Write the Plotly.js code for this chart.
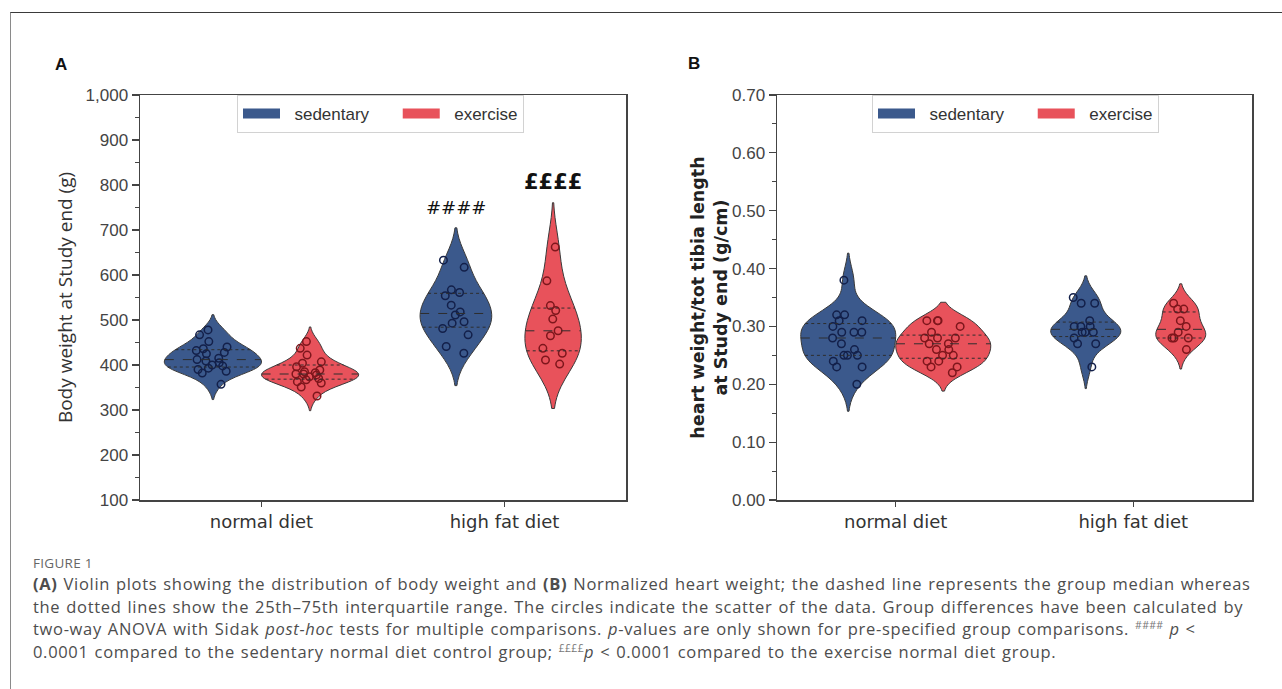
<!DOCTYPE html>
<html><head><meta charset="utf-8">
<script src="https://cdn.plot.ly/plotly-3.0.1.min.js"></script>
<style>
html,body{margin:0;padding:0;background:#fff;}
body{width:1282px;height:689px;overflow:hidden;position:relative;}
#frame{position:absolute;left:10px;top:12px;width:1400px;height:800px;border-top:1.5px solid #3a3a3a;border-left:1px solid #8a8a8a;}
#plot{position:absolute;left:0;top:0;width:1282px;height:689px;}
#figlabel{position:absolute;left:33px;top:554px;font-family:"Open Sans",sans-serif;font-size:13.5px;color:#666;white-space:nowrap;letter-spacing:0.3px;}
#caption{position:absolute;left:33px;top:573px;font-family:"Open Sans",sans-serif;font-size:16.5px;line-height:22.7px;letter-spacing:0.68px;word-spacing:1px;color:#4d4d4d;white-space:nowrap;}
#caption sup{font-size:10.5px;vertical-align:6px;line-height:0;color:#777;letter-spacing:0.3px;}
</style></head><body>
<div id="frame"></div>
<div id="plot"></div>
<div id="figlabel">FIGURE 1</div>
<div id="caption"><b>(A)</b> Violin plots showing the distribution of body weight and <b>(B)</b> Normalized heart weight; the dashed line represents the group median whereas<br>the dotted lines show the 25th–75th interquartile range. The circles indicate the scatter of the data. Group differences have been calculated by<br>two-way ANOVA with Sidak <i>post-hoc</i> tests for multiple comparisons. <i>p</i>-values are only shown for pre-specified group comparisons. <sup>####</sup> <i>p</i> &lt;<br>0.0001 compared to the sedentary normal diet control group; <sup>££££</sup><i>p</i> &lt; 0.0001 compared to the exercise normal diet group.</div>
<script>
// ---------- data ----------
const categories = ['normal diet', 'high fat diet'];
const groups = ['sedentary', 'exercise'];

// Panel A: body weight at study end (g)
const bwSedentaryNormal = [478, 467, 452, 440, 436, 432, 428, 425, 415, 412, 409, 405, 400, 398, 393, 390, 386, 382, 357];
const bwSedentaryHighFat = [633, 617, 567, 561, 554, 533, 518, 511, 496, 493, 481, 467, 441, 426];
const bwExerciseNormal = [452, 437, 422, 407, 404, 396, 389, 385, 383, 380, 380, 378, 374, 370, 367, 363, 360, 351, 331];
const bwExerciseHighFat = [662, 587, 532, 521, 502, 476, 465, 437, 426, 411, 402];

// Panel B: heart weight / tibia length (g/cm)
const hwSedentaryNormal = [0.38, 0.32, 0.31, 0.32, 0.31, 0.30, 0.29, 0.29, 0.29, 0.28, 0.27, 0.26, 0.25, 0.25, 0.25, 0.24, 0.23, 0.23, 0.20];
const hwSedentaryHighFat = [0.35, 0.34, 0.34, 0.31, 0.30, 0.30, 0.30, 0.29, 0.29, 0.29, 0.28, 0.27, 0.27, 0.23];
const hwExerciseNormal = [0.31, 0.31, 0.31, 0.30, 0.29, 0.28, 0.28, 0.28, 0.27, 0.27, 0.26, 0.26, 0.25, 0.25, 0.24, 0.24, 0.23, 0.23, 0.22];
const hwExerciseHighFat = [0.34, 0.33, 0.33, 0.31, 0.30, 0.29, 0.28, 0.28, 0.28, 0.26];

const significanceLabels = ['####', '££££'];

// ---------- styling ----------
const fillColors = ['#3b598c', '#e8525b'];
const pointColors = ['#13204a', '#7e161c'];
const outline = '#3a3a3a';

// ---------- helpers ----------
function mean(a){return a.reduce((s,v)=>s+v,0)/a.length;}
function sd(a){const m=mean(a);return Math.sqrt(a.reduce((s,v)=>s+(v-m)*(v-m),0)/(a.length-1));}
function scottBw(a){return sd(a)*Math.pow(a.length,-0.2);}
function quantile(a,p){const s=[...a].sort((x,y)=>x-y);const i=(s.length-1)*p;const lo=Math.floor(i),hi=Math.ceil(i);return s[lo]+(s[hi]-s[lo])*(i-lo);}
function kde(a,bw){return v=>a.reduce((s,x)=>s+Math.exp(-0.5*((v-x)/bw)**2),0)/(a.length*bw*Math.sqrt(2*Math.PI));}

const panels = [
  {xa:'x', ya:'y', legend:'legend', data:[[bwSedentaryNormal,bwSedentaryHighFat],[bwExerciseNormal,bwExerciseHighFat]]},
  {xa:'x2', ya:'y2', legend:'legend2', data:[[hwSedentaryNormal,hwSedentaryHighFat],[hwExerciseNormal,hwExerciseHighFat]]}
];
const slotWidth = 0.4;
const groupOffsets = [-0.2, 0.2];
const NB = '\u00a0';

const violinTraces = [], lineTraces = [], legendTraces = [];
panels.forEach((p, pi) => {
  const nMax = Math.max(...p.data.flat().map(a=>a.length));
  p.data.forEach((byCat, g) => {
    byCat.forEach((vals, c) => {
      const bw = scottBw(vals);
      const width = slotWidth * vals.length / nMax;
      const pos = c + groupOffsets[g];
      violinTraces.push({
        type:'violin', x0:pos, y:vals, xaxis:p.xa, yaxis:p.ya,
        width:width, bandwidth:bw, spanmode:'soft', scalemode:'width',
        scalegroup:'v'+pi+g+c, fillcolor:fillColors[g], opacity:1,
        line:{color:outline, width:1},
        points:'all', pointpos:0, jitter:0.45,
        marker:{symbol:'circle-open', size:7.5, color:pointColors[g], line:{width:1.5}},
        box:{visible:false}, meanline:{visible:false},
        showlegend:false, hoverinfo:'skip', name:groups[g]+' '+categories[c]
      });
      const f = kde(vals,bw);
      const lo = Math.min(...vals)-2*bw, hi = Math.max(...vals)+2*bw;
      let maxD = 0;
      for(let k=0;k<=400;k++){maxD=Math.max(maxD,f(lo+(hi-lo)*k/400));}
      [[0.25,'dot'],[0.5,'dash'],[0.75,'dot']].forEach(([q,dash])=>{
        const qv = quantile(vals,q);
        const hw = f(qv)/maxD*width/2;
        lineTraces.push({type:'scatter', mode:'lines', x:[pos-hw,pos+hw], y:[qv,qv],
          xaxis:p.xa, yaxis:p.ya, line:{color:'#2e2e2e', width:1, dash:dash},
          showlegend:false, hoverinfo:'skip'});
      });
    });
  });
  groups.forEach((gname, g) => {
    const label = NB + NB + gname + (g < groups.length - 1 ? NB.repeat(5) : '');
    legendTraces.push({type:'scatter', mode:'lines', name:label, x:[null], y:[null],
      xaxis:p.xa, yaxis:p.ya, legend:p.legend, line:{color:fillColors[g], width:14}, hoverinfo:'skip'});
  });
});

// ---------- layout ----------
const W = 1282, H = 689;
const px = v => v / W, py = v => 1 - v / H;
const tickFont = {family:'Liberation Sans, Arial, sans-serif', size:17, color:'#444'};
const catFont = {family:'DejaVu Sans, sans-serif', size:18, color:'#333'};
const axisCommon = {showline:true, mirror:true, linecolor:'#444', linewidth:1.5, showgrid:false, zeroline:false, ticks:'outside', tickcolor:'#444', fixedrange:true};

const xCommon = Object.assign({}, axisCommon, {type:'linear', range:[-0.5,1.5], tickvals:[0,1], ticktext:categories, ticklen:5, tickwidth:1.2, tickfont:catFont});

const legendCommon = {orientation:'h', xanchor:'left', yanchor:'top', y:py(95),
  bgcolor:'rgba(255,255,255,0.95)', bordercolor:'#d2d2d2', borderwidth:1,
  font:{family:'Liberation Sans, Arial, sans-serif', size:17, color:'#333'}, itemwidth:37,
  itemclick:false, itemdoubleclick:false};

const layout = {
  width:W, height:H, margin:{l:0,r:0,t:0,b:0},
  paper_bgcolor:'rgba(0,0,0,0)', plot_bgcolor:'#fff',
  violinmode:'overlay', violingap:0, violingroupgap:0,
  xaxis: Object.assign({}, xCommon, {domain:[px(140), px(626)], anchor:'y'}),
  yaxis: Object.assign({}, axisCommon, {domain:[py(500), py(95)], anchor:'x', range:[100,1000], dtick:100, tickformat:',', ticklen:7, tickwidth:1.2, tickfont:tickFont,
    minor:{ticks:'outside', ticklen:4, dtick:50, tickcolor:'#444', tickwidth:1, showgrid:false},
    title:{text:'Body weight at Study end (g)', standoff:8, font:{family:'Open Sans, sans-serif', size:19, color:'#333'}}}),
  xaxis2: Object.assign({}, xCommon, {domain:[px(777), px(1252)], anchor:'y2'}),
  yaxis2: Object.assign({}, axisCommon, {domain:[py(500), py(95)], anchor:'x2', range:[0,0.7], dtick:0.1, tickformat:'.2f', ticklen:7, tickwidth:1.2, tickfont:tickFont,
    minor:{ticks:'outside', ticklen:4, dtick:0.05, tickcolor:'#444', tickwidth:1, showgrid:false},
    title:{text:'<b>heart weight/tot tibia length</b><br><b>at Study end (g/cm)</b>', standoff:0, font:{family:'DejaVu Sans, sans-serif', size:17.5, color:'#222'}}}),
  legend: Object.assign({}, legendCommon, {x:px(237)}),
  legend2: Object.assign({}, legendCommon, {x:px(872)}),
  annotations:[
    {xref:'paper', yref:'paper', x:px(61), y:py(64), xanchor:'center', yanchor:'middle', text:'<b>A</b>', showarrow:false, font:{family:'Liberation Sans, Arial', size:17, color:'#111'}},
    {xref:'paper', yref:'paper', x:px(694), y:py(63), xanchor:'center', yanchor:'middle', text:'<b>B</b>', showarrow:false, font:{family:'Liberation Sans, Arial', size:17, color:'#111'}},
    {xref:'x', yref:'y', x:1+groupOffsets[0], y:751, text:significanceLabels[0], showarrow:false, font:{family:'DejaVu Sans, sans-serif', size:18, color:'#111'}},
    {xref:'x', yref:'y', x:1+groupOffsets[1], y:807, text:'<b>'+significanceLabels[1]+'</b>', showarrow:false, font:{family:'DejaVu Sans, sans-serif', size:21, color:'#111'}}
  ]
};

Plotly.newPlot('plot', [...violinTraces, ...lineTraces, ...legendTraces], layout, {staticPlot:true, displayModeBar:false});
</script>
</body></html>
